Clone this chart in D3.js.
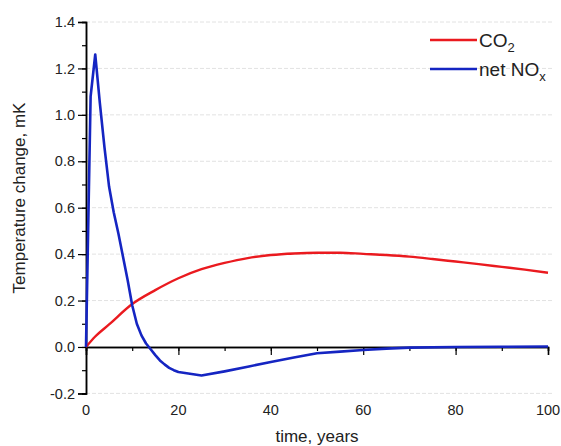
<!DOCTYPE html>
<html>
<head>
<meta charset="utf-8">
<script src="https://cdn.jsdelivr.net/npm/d3@7"></script>
<style>
  body { margin: 0; background: #fff; }
  svg { display: block; font-family: "Liberation Sans", Arial, sans-serif; }
</style>
</head>
<body>
<div id="chart"></div>
<script>
// time in years
const co2Years = [0, 2, 5, 10, 15, 20, 25, 30, 35, 40, 45, 50, 55, 60, 65, 70, 75, 80, 85, 90, 95, 100];
const co2Temp  = [0, 0.045, 0.097, 0.185, 0.245, 0.296, 0.335, 0.362, 0.383, 0.396, 0.403, 0.406, 0.406, 0.401, 0.396, 0.389, 0.379, 0.368, 0.357, 0.345, 0.333, 0.32];

const noxYears = [0, 1, 2, 3, 4, 5, 6, 7, 8, 9, 10, 11, 12, 13, 14, 15, 16, 17, 18, 19, 20, 25, 30, 35, 40, 45, 50, 55, 60, 65, 70, 80, 90, 100];
const noxTemp  = [0, 1.08, 1.26, 1.05, 0.86, 0.69, 0.58, 0.49, 0.39, 0.29, 0.18, 0.10, 0.05, 0.015, -0.01, -0.035, -0.058, -0.075, -0.09, -0.1, -0.108, -0.123, -0.105, -0.085, -0.065, -0.045, -0.027, -0.02, -0.013, -0.007, -0.003, 0, 0.001, 0.002];

const xTicks = [0, 20, 40, 60, 80, 100];
const yTicks = [-0.2, 0.0, 0.2, 0.4, 0.6, 0.8, 1.0, 1.2, 1.4];

const width = 561, height = 446;
const x = d3.scaleLinear().domain([0, 100]).range([86, 548]);
const y = d3.scaleLinear().domain([-0.2, 1.4]).range([393.4, 22]);

const fmt = d => d3.format(".1f")(d).replace("\u2212", "-");

const svg = d3.select("#chart").append("svg")
    .attr("width", width)
    .attr("height", height);

// grid
svg.append("g")
  .selectAll("line")
  .data(yTicks.filter(d => d !== 0))
  .join("line")
    .attr("x1", x(0)).attr("x2", 553)
    .attr("y1", d => y(d)).attr("y2", d => y(d))
    .attr("stroke", "#e2e2e2")
    .attr("stroke-dasharray", "4,2");

// y axis
const yAxis = svg.append("g").attr("transform", `translate(${x(0)},0)`);
yAxis.call(d3.axisLeft(y).tickValues(d3.range(-0.2, 1.41, 0.1)).tickSize(4).tickFormat(""));
yAxis.call(g => g.append("g").call(d3.axisLeft(y).tickValues(yTicks).tickSize(8).tickPadding(3).tickFormat(fmt)));
yAxis.selectAll(".domain").attr("stroke-width", 1.5);
yAxis.selectAll("line").attr("stroke-width", 1.2);
yAxis.selectAll("text").attr("font-size", 14.5).attr("fill", "#222")
    .attr("font-family", "Liberation Sans, Arial, sans-serif");

// x axis at zero
const xAxis = svg.append("g").attr("transform", `translate(0,${y(0)})`);
xAxis.call(d3.axisBottom(x).tickValues(d3.range(0, 101, 10)).tickSize(4).tickFormat(""));
xAxis.call(g => g.append("g").call(d3.axisBottom(x).tickValues(xTicks).tickSize(8).tickFormat("")));
xAxis.selectAll(".domain").attr("stroke-width", 1.5);
xAxis.selectAll("line").attr("stroke-width", 1.2);

// x tick labels below the plot
svg.append("g")
  .selectAll("text")
  .data(xTicks)
  .join("text")
    .attr("x", d => x(d))
    .attr("y", 415)
    .attr("text-anchor", "middle")
    .attr("font-size", 14.5)
    .attr("fill", "#222")
    .text(d => d);

// axis titles
svg.append("text")
    .attr("x", x(50))
    .attr("y", 442)
    .attr("text-anchor", "middle")
    .attr("font-size", 17)
    .attr("fill", "#222")
    .text("time, years");

svg.append("text")
    .attr("transform", `translate(25,${198}) rotate(-90)`)
    .attr("text-anchor", "middle")
    .attr("font-size", 17)
    .attr("fill", "#222")
    .text("Temperature change, mK");

// lines
const co2Line = d3.line()
    .x((d, i) => x(co2Years[i]))
    .y(d => y(d))
    .curve(d3.curveMonotoneX);

const noxLine = d3.line()
    .x((d, i) => x(noxYears[i]))
    .y(d => y(d));

svg.append("path")
    .attr("d", co2Line(co2Temp))
    .attr("fill", "none")
    .attr("stroke", "#ea1a1f")
    .attr("stroke-width", 2.4);

svg.append("path")
    .attr("d", noxLine(noxTemp))
    .attr("fill", "none")
    .attr("stroke", "#1525c2")
    .attr("stroke-width", 2.6)
    .attr("stroke-linejoin", "round");

// legend
const legend = [
  {label: "CO", sub: "2", color: "#ea1a1f", yy: 40},
  {label: "net NO", sub: "x", color: "#1525c2", yy: 69}
];
const lg = svg.append("g");
legend.forEach(d => {
  lg.append("line")
      .attr("x1", 430).attr("x2", 477)
      .attr("y1", d.yy).attr("y2", d.yy)
      .attr("stroke", d.color)
      .attr("stroke-width", 2.4);
  const t = lg.append("text")
      .attr("x", 479)
      .attr("y", d.yy + 7)
      .attr("font-size", 19)
      .attr("fill", "#222");
  t.append("tspan").text(d.label);
  t.append("tspan").attr("dy", 5).attr("font-size", 13).text(d.sub);
});
</script>
</body>
</html>
